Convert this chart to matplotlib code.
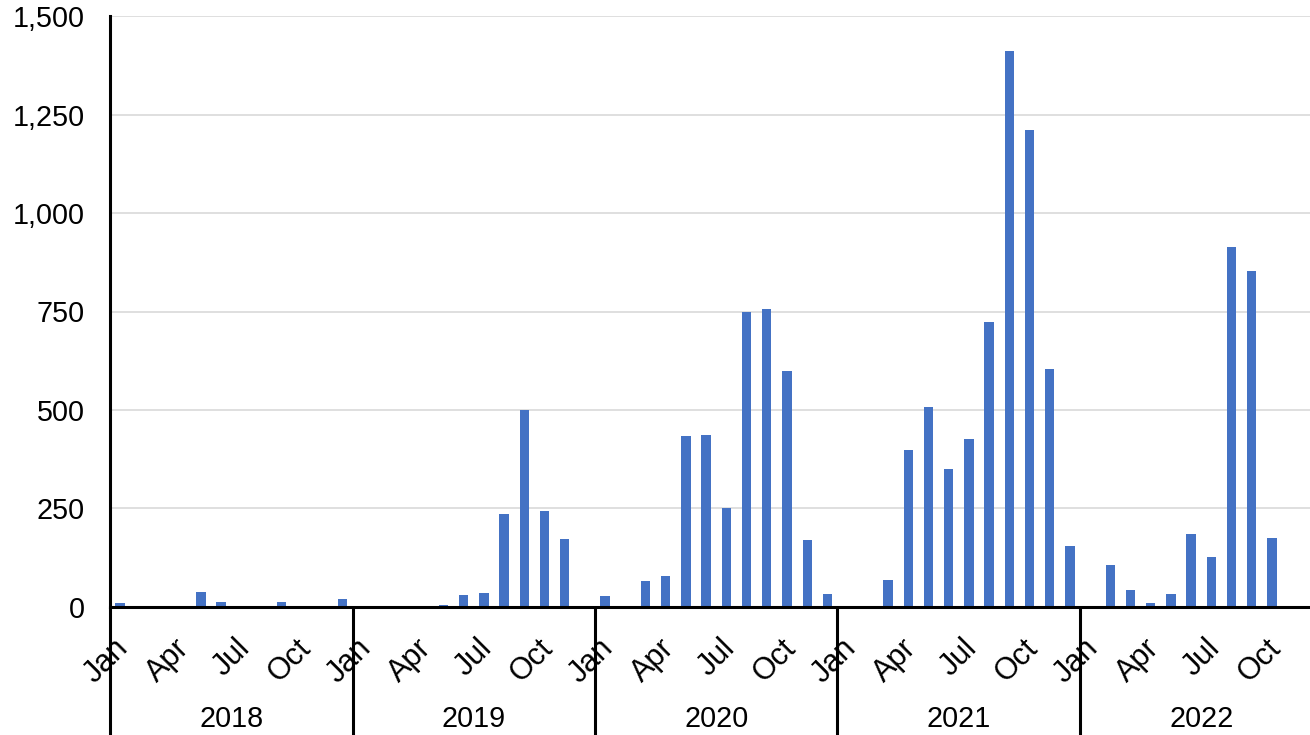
import matplotlib
matplotlib.use("Agg")
import matplotlib.pyplot as plt
from matplotlib.ticker import FuncFormatter
import matplotlib.transforms as mtransforms

plt.rcParams['font.family'] = ['Liberation Sans', 'DejaVu Sans']

years = ["2018", "2019", "2020", "2021", "2022"]
month_names = ["Jan", "Feb", "Mar", "Apr", "May", "Jun",
               "Jul", "Aug", "Sep", "Oct", "Nov", "Dec"]
shown_months = ["Jan", "Apr", "Jul", "Oct"]

values_2018 = [10, 0, 0, 0, 38, 11, 0, 3, 12, 2, 0, 20]
values_2019 = [0, 0, 2, 0, 4, 30, 36, 236, 499, 244, 172, 0]
values_2020 = [28, 0, 65, 77, 433, 437, 251, 749, 756, 600, 169, 31]
values_2021 = [1, 1, 68, 399, 508, 350, 425, 723, 1413, 1210, 604, 154]
values_2022 = [1, 106, 42, 9, 31, 185, 126, 914, 854, 175, 0, 0]

values = values_2018 + values_2019 + values_2020 + values_2021 + values_2022
x = list(range(len(values)))

fig = plt.figure(figsize=(13.1, 7.35), dpi=100)
# the plot area runs slightly past the right edge of the canvas
ax = fig.add_axes([110 / 1310, 128.3 / 735, 1212.5 / 1310, 590.4 / 735])

ax.bar(x, values, width=0.46, color="#4472C4", zorder=2)

ax.set_xlim(-0.5, len(values) - 0.5)
ax.set_ylim(0, 1500)
ax.set_yticks([0, 250, 500, 750, 1000, 1250, 1500])
ax.yaxis.set_major_formatter(FuncFormatter(lambda v, p: f"{int(v):,}"))
ax.yaxis.grid(True, color="#d9d9d9", lw=1.2)
ax.set_axisbelow(True)

for side in ("top", "right"):
    ax.spines[side].set_visible(False)
for side in ("left", "bottom"):
    ax.spines[side].set_color("black")
    ax.spines[side].set_linewidth(2.2)

ax.tick_params(axis="y", length=0, pad=18, labelsize=20.7)

# month ticks: Jan / Apr / Jul / Oct of every year
tick_pos, tick_lab = [], []
for yi, _ in enumerate(years):
    for m in shown_months:
        tick_pos.append(yi * 12 + month_names.index(m))
        tick_lab.append(m)
ax.set_xticks(tick_pos)
ax.set_xticklabels(tick_lab)
ax.tick_params(axis="x", length=0, pad=26.5, labelsize=22)
shift = mtransforms.ScaledTranslation(4 / 100, 0, fig.dpi_scale_trans)
for lab in ax.get_xticklabels():
    lab.set_rotation(45)
    lab.set_rotation_mode("anchor")
    lab.set_ha("right")
    lab.set_va("center")
    lab.set_transform(lab.get_transform() + shift)

# year group separators and labels
blend = mtransforms.blended_transform_factory(ax.transData, ax.transAxes)
for yi, yr in enumerate(years):
    bx = yi * 12 - 0.5
    ax.plot([bx, bx], [0, -0.3], transform=blend, color="black",
            lw=2.2, clip_on=False, solid_capstyle="butt", zorder=3)
    ax.annotate(yr, xy=(yi * 12 + 5.5, 0), xycoords=blend,
                xytext=(0, -81), textcoords="offset points",
                ha="center", va="center", fontsize=20.7)

fig.savefig("out.png", dpi=100)
